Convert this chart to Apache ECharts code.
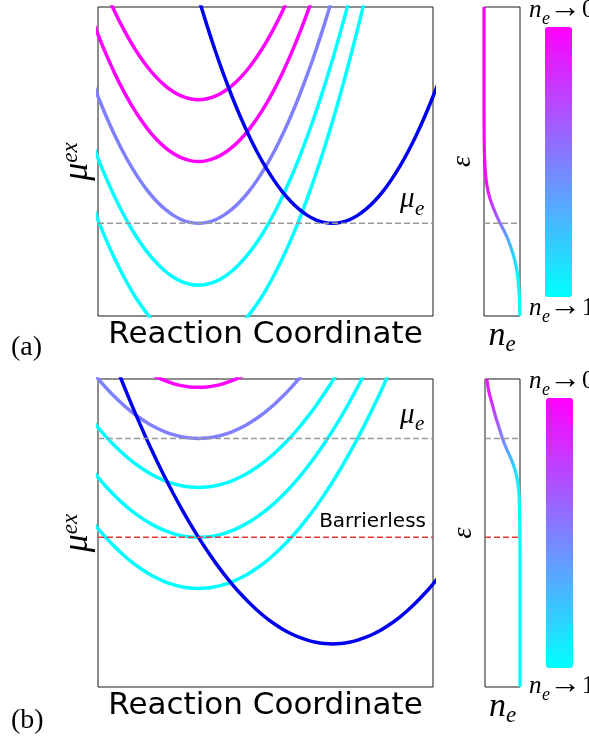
<!DOCTYPE html>
<html><head><meta charset="utf-8">
<script src="https://cdn.jsdelivr.net/npm/echarts@6/dist/echarts.min.js"></script>
<style>html,body{margin:0;padding:0;background:#fff}#c{width:589px;height:736px}</style>
</head><body><div id="c"></div>
<script>
// ---------------- data ----------------
const xRange = [0, 10];
const yRange = [0, 10];
const neRange = [0, 1];

// panel (a): parabola minima and one shared half-profile (offset from centre -> rise above minimum)
const a_leftCenter = 3;
const a_leftMinima = [7, 5, 3, 1, -1];
const a_blueCenter = 7;
const a_blueMin = 3;
const a_muE = 3;
const a_halfDx = [0,0.25,0.5,0.75,1,1.25,1.5,1.75,2,2.25,2.5,2.75,3,3.25,3.5,3.75,4,4.25,4.5,4.75,5,5.25,5.5,5.75,6];
const a_halfDy = [0,0.029,0.114,0.257,0.456,0.713,1.026,1.397,1.824,2.309,2.85,3.449,4.104,4.817,5.586,6.413,7.296,8.237,9.234,10.29,11.4,12.57,13.79,15.08,16.42];
const a_fermiEps = [10, 7, 6, 5.5, 5.25, 5, 4.75, 4.5, 4.25, 4, 3.75, 3.5, 3.25, 3, 2.75, 2.5, 2.25, 2, 1.75, 1.5, 1.25, 1, 0.75, 0.5, 0.25, 0];
const a_fermiNe  = [0, 0.0005, 0.003, 0.008, 0.012, 0.02, 0.032, 0.05, 0.08, 0.12, 0.18, 0.26, 0.35, 0.45, 0.56, 0.66, 0.74, 0.81, 0.865, 0.91, 0.94, 0.96, 0.975, 0.985, 0.991, 0.995];

// panel (b)
const b_leftCenter = 3;
const b_leftMinima = [9.73, 8.07, 6.48, 4.86, 3.2];
const b_blueCenter = 7;
const b_blueMin = 1.4;
const b_muE = 8.07;
const b_barrierless = 4.86;
const b_halfDx = [0,0.25,0.5,0.75,1,1.25,1.5,1.75,2,2.25,2.5,2.75,3,3.25,3.5,3.75,4,4.25,4.5,4.75,5,5.25,5.5,5.75,6,6.25,6.5,6.75,7];
const b_halfDy = [0,0.014,0.054,0.122,0.216,0.338,0.486,0.662,0.864,1.094,1.35,1.634,1.944,2.282,2.646,3.038,3.456,3.902,4.374,4.874,5.4,5.954,6.534,7.142,7.776,8.438,9.126,9.842,10.58];
const b_fermiEps = [10, 9.75, 9.5, 9.25, 9, 8.75, 8.5, 8.25, 8.07, 7.75, 7.5, 7.25, 7, 6.75, 6.5, 6.25, 6, 5.5, 5, 4, 0];
const b_fermiNe  = [0.05, 0.085, 0.13, 0.19, 0.25, 0.31, 0.38, 0.45, 0.5, 0.61, 0.71, 0.8, 0.87, 0.92, 0.95, 0.97, 0.98, 0.99, 0.995, 1, 1];

// ---------------- styles ----------------
const MAG = '#ff00ff', LAV = '#8080ff', CYA = '#00ffff', BLUE = '#0000f0';
const a_leftColors = [MAG, MAG, LAV, CYA, CYA];
const b_leftColors = [MAG, LAV, CYA, CYA, CYA];
const GRAYDASH = '#999999', REDDASH = '#e83a3a';
const LW = 3.5;
const SERIF = 'Liberation Serif';
const SANS = 'DejaVu Sans';

function curve(center, min, hdx, hdy) {
  const pts = [];
  for (let i = hdx.length - 1; i > 0; i--) pts.push([center - hdx[i], min + hdy[i]]);
  for (let i = 0; i < hdx.length; i++) pts.push([center + hdx[i], min + hdy[i]]);
  return pts;
}
function lineSeries(data, color, gi) {
  return {type: 'line', xAxisIndex: gi, yAxisIndex: gi, data, showSymbol: false, smooth: 0.3,
    silent: true, clip: true, lineStyle: {color, width: LW}, z: 3};
}
function dashSeries(gi, range, value, color) {
  return {type: 'line', xAxisIndex: gi, yAxisIndex: gi, data: [[range[0], value], [range[1], value]],
    showSymbol: false, silent: true, z: 4, lineStyle: {type: [6, 3], color, width: 1.4}};
}
function fermiSeries(gi, ne, eps) {
  return {type: 'line', xAxisIndex: gi, yAxisIndex: gi, showSymbol: false, smooth: 0.3,
    silent: true, data: ne.map((n, i) => [n, eps[i]]), lineStyle: {width: 3.2}, z: 3};
}

const series = [];
a_leftMinima.forEach((m, i) => series.push(lineSeries(curve(a_leftCenter, m, a_halfDx, a_halfDy), a_leftColors[i], 0)));
series.push(lineSeries(curve(a_blueCenter, a_blueMin, a_halfDx, a_halfDy), BLUE, 0));
series.push(dashSeries(0, xRange, a_muE, GRAYDASH));
const fermiAIndex = series.length;
series.push(fermiSeries(1, a_fermiNe, a_fermiEps));
series.push(dashSeries(1, neRange, a_muE, GRAYDASH));

b_leftMinima.forEach((m, i) => series.push(lineSeries(curve(b_leftCenter, m, b_halfDx, b_halfDy), b_leftColors[i], 2)));
series.push(lineSeries(curve(b_blueCenter, b_blueMin, b_halfDx, b_halfDy), BLUE, 2));
series.push(dashSeries(2, xRange, b_muE, GRAYDASH));
series.push(dashSeries(2, xRange, b_barrierless, REDDASH));
const fermiBIndex = series.length;
series.push(fermiSeries(3, b_fermiNe, b_fermiEps));
series.push(dashSeries(3, neRange, b_muE, GRAYDASH));
series.push(dashSeries(3, neRange, b_barrierless, REDDASH));

const grids = [
  {left: 98, top: 7, width: 335, height: 309},
  {left: 484, top: 7, width: 36, height: 309},
  {left: 98, top: 379, width: 335, height: 308},
  {left: 485, top: 379, width: 35, height: 308}
].map(g => Object.assign({show: true, borderColor: '#1a1a1a', borderWidth: 1, backgroundColor: 'transparent', containLabel: false}, g));

const hidden = {axisLine: {show: false}, axisTick: {show: false}, axisLabel: {show: false}, splitLine: {show: false}};
const rcName = {name: 'Reaction Coordinate', nameLocation: 'middle', nameGap: 3,
  nameTextStyle: {fontFamily: SANS, fontSize: 31, color: '#000', verticalAlign: 'top'}};
const neName = {name: '{n|n}{e|e}', nameLocation: 'middle', nameGap: 0,
  nameTextStyle: {verticalAlign: 'top', rich: {
    n: {fontFamily: SERIF, fontStyle: 'italic', fontSize: 34, lineHeight: 40, color: '#000'},
    e: {fontFamily: SERIF, fontStyle: 'italic', fontSize: 23, lineHeight: 23, verticalAlign: 'bottom', color: '#000'}}}};
const muName = {name: '{m|μ}{s|ex}', nameLocation: 'middle', nameRotate: 90, nameGap: 1,
  nameTextStyle: {rich: {
    m: {fontFamily: SERIF, fontStyle: 'italic', fontSize: 36, lineHeight: 38, color: '#000'},
    s: {fontFamily: SERIF, fontStyle: 'italic', fontSize: 23, lineHeight: 26, verticalAlign: 'top', color: '#000'}}}};
const epsName = {name: 'ε', nameLocation: 'middle', nameRotate: 90, nameGap: 7,
  nameTextStyle: {fontFamily: SERIF, fontStyle: 'italic', fontSize: 28, color: '#000'}};

const xAxis = [
  Object.assign({type: 'value', gridIndex: 0, min: xRange[0], max: xRange[1]}, hidden, rcName),
  Object.assign({type: 'value', gridIndex: 1, min: neRange[0], max: neRange[1]}, hidden, neName),
  Object.assign({type: 'value', gridIndex: 2, min: xRange[0], max: xRange[1]}, hidden, rcName),
  Object.assign({type: 'value', gridIndex: 3, min: neRange[0], max: neRange[1]}, hidden, neName)
];
const yAxis = [
  Object.assign({type: 'value', gridIndex: 0, min: yRange[0], max: yRange[1]}, hidden, muName),
  Object.assign({type: 'value', gridIndex: 1, min: yRange[0], max: yRange[1]}, hidden, epsName),
  Object.assign({type: 'value', gridIndex: 2, min: yRange[0], max: yRange[1]}, hidden, muName),
  Object.assign({type: 'value', gridIndex: 3, min: yRange[0], max: yRange[1]}, hidden, epsName)
];

function cbar(seriesIndex, left, top) {
  return {type: 'continuous', seriesIndex, dimension: 0, min: 0, max: 1, inverse: true,
    calculable: false, hoverLink: false, orient: 'vertical', left, top, padding: 0,
    itemWidth: 27, itemHeight: 270, inRange: {color: [MAG, CYA]}};
}

function t(x, base, text, size, opts) {
  opts = opts || {};
  return {type: 'text', x, y: base - 0.3 * size, silent: true, z: 10,
    style: {text, fontFamily: opts.family || SERIF, fontStyle: opts.italic ? 'italic' : 'normal',
      fontSize: size, fill: '#000', align: opts.align || 'left', verticalAlign: 'middle'}};
}
function neArrow(x, base, digit) {
  return [
    t(x, base, 'n', 25, {italic: true}),
    t(x + 13, base + 7, 'e', 18, {italic: true}),
    t(x + 20, base, '→', 32),
    t(x + 53, base, digit, 25)
  ];
}
const graphic = [].concat(
  [t(11, 356, '(a)', 28), t(11, 729, '(b)', 28)],
  [t(400, 208, 'μ', 29, {italic: true}), t(415, 216, 'e', 21, {italic: true})],
  [t(400, 424, 'μ', 29, {italic: true}), t(415, 431, 'e', 21, {italic: true})],
  [t(426, 528, 'Barrierless', 20, {family: SANS, align: 'right'})],
  neArrow(529, 18, '0'), neArrow(529, 316, '1'),
  neArrow(529, 389, '0'), neArrow(529, 694, '1')
);

const chart = echarts.init(document.getElementById('c'), null, {renderer: 'canvas'});
chart.setOption({
  animation: false,
  backgroundColor: '#fff',
  grid: grids, xAxis, yAxis, series,
  visualMap: [cbar(fermiAIndex, 545, 27), cbar(fermiBIndex, 546, 398)],
  graphic
});
</script></body></html>
